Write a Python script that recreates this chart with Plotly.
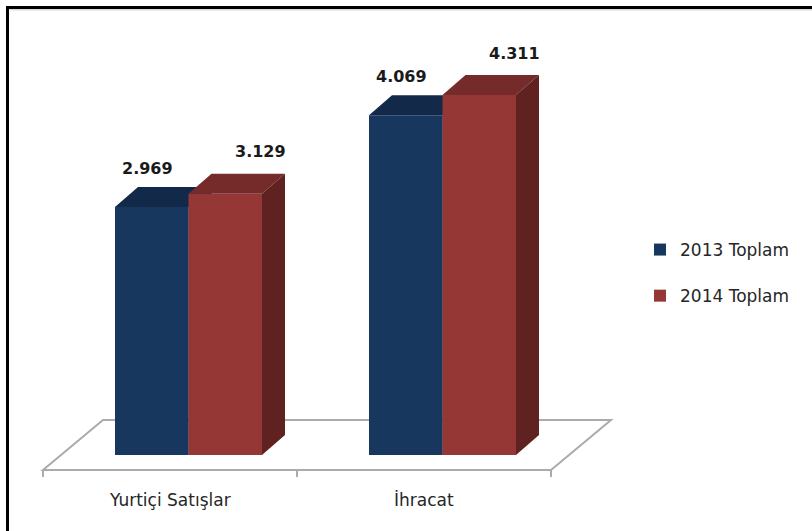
import plotly.graph_objects as go

# ---------------- data ----------------
categories = ["Yurtiçi Satışlar", "İhracat"]
series_names = ["2013 Toplam", "2014 Toplam"]
values_2013 = [2969, 4069]
values_2014 = [3129, 4311]

# ---------------- style / geometry (pixels) ----------------
W, H = 812, 531
CAT_PX = 254.0          # pixels per category
CAT0_PX = 170.0         # pixel x of first category centre (floor front)
BASE_PX = 455.0         # pixel y of value 0 (bar front base)
PX_PER_UNIT = 0.0835    # pixels per value unit
BAR_W_PX = 73.5
BAR_DEPTH = (23.0, 20.0)
FLOOR_DEPTH = (60.0, 50.0)

front_cols = ["#17375E", "#953735"]
top_cols = ["#12294A", "#742B2A"]
side_cols = ["#102440", "#5F2221"]
label_shift = [(-4.5, 39), (35, 42)]


def dx(px):
    return px / CAT_PX


def dy(px):
    return px / PX_PER_UNIT


series_values = [values_2013, values_2014]
n_cat = len(categories)
n_ser = len(series_values)

x_range = [(0 - CAT0_PX) / CAT_PX, (W - CAT0_PX) / CAT_PX]
y_range = [(BASE_PX - H) / PX_PER_UNIT, BASE_PX / PX_PER_UNIT]

group_off_px = (FLOOR_DEPTH[0] - BAR_DEPTH[0]) / 2.0
bar_w = dx(BAR_W_PX)


def fmt(v):
    return f"{v:,}".replace(",", ".")


fig = go.Figure()
shapes = []
annotations = []

# floor (parallelogram)
fy = -dy((FLOOR_DEPTH[1] - BAR_DEPTH[1]) / 2.0)
fx0, fx1 = -0.5, n_cat - 0.5
fdx, fdy = dx(FLOOR_DEPTH[0]), dy(FLOOR_DEPTH[1])
shapes.append(dict(
    type="path", xref="x", yref="y", layer="below",
    path=f"M{fx0},{fy} L{fx1},{fy} L{fx1 + fdx},{fy + fdy} L{fx0 + fdx},{fy + fdy} Z",
    fillcolor="white", line=dict(color="#ABABAB", width=2),
))
# tick marks on the category axis
for k in range(n_cat + 1):
    xt = -0.5 + k
    shapes.append(dict(type="line", xref="x", yref="y", layer="below",
                       x0=xt, x1=xt, y0=fy, y1=fy - dy(7),
                       line=dict(color="#ABABAB", width=2)))

bdx, bdy = dx(BAR_DEPTH[0]), dy(BAR_DEPTH[1])
for s in range(n_ser):
    centre_off = dx(group_off_px) + (s - (n_ser - 1) / 2.0) * bar_w
    xs = [i + centre_off for i in range(n_cat)]
    vals = series_values[s]
    fig.add_trace(go.Bar(
        x=xs, y=vals, base=0, width=bar_w, name=series_names[s],
        marker=dict(color=front_cols[s], line=dict(width=0)),
        legendgroup=series_names[s], hoverinfo="skip",
    ))
    for xc, v in zip(xs, vals):
        xl, xr = xc - bar_w / 2, xc + bar_w / 2
        # top face
        shapes.append(dict(
            type="path", xref="x", yref="y", layer="below",
            path=f"M{xl},{v} L{xr},{v} L{xr + bdx},{v + bdy} L{xl + bdx},{v + bdy} Z",
            fillcolor=top_cols[s], line=dict(width=0),
        ))
        # side face
        shapes.append(dict(
            type="path", xref="x", yref="y", layer="below",
            path=f"M{xr},0 L{xr + bdx},{bdy} L{xr + bdx},{v + bdy} L{xr},{v} Z",
            fillcolor=side_cols[s], line=dict(width=0),
        ))
        annotations.append(dict(
            x=xc, y=v, xref="x", yref="y", text=f"<b>{fmt(v)}</b>",
            showarrow=False, xanchor="center", yanchor="middle",
            xshift=label_shift[s][0], yshift=label_shift[s][1],
            font=dict(family="DejaVu Sans", size=16, color="#1A1A1A"),
        ))

# category labels
for i, c in enumerate(categories):
    annotations.append(dict(
        x=i, y=dy(BASE_PX - 500), xref="x", yref="y", text=c,
        showarrow=False, xanchor="center", yanchor="middle",
        font=dict(family="DejaVu Sans", size=17, color="#262626"),
    ))

# outer frame
shapes.append(dict(type="rect", xref="paper", yref="paper",
                   x0=7.5 / W, x1=1.05, y0=-0.05, y1=1 - 7.5 / H,
                   line=dict(color="black", width=3), fillcolor="rgba(0,0,0,0)",
                   layer="above"))
shapes.append(dict(type="line", xref="paper", yref="paper",
                   x0=9.5 / W, x1=1.0, y0=1 - 9.8 / H, y1=1 - 9.8 / H,
                   line=dict(color="#C8C8C8", width=1), layer="above"))

fig.update_layout(
    width=W, height=H,
    margin=dict(l=0, r=0, t=0, b=0),
    paper_bgcolor="white", plot_bgcolor="white",
    barmode="overlay",
    xaxis=dict(visible=False, range=x_range, fixedrange=True),
    yaxis=dict(visible=False, range=y_range, fixedrange=True),
    shapes=shapes, annotations=annotations,
    showlegend=True,
    legend=dict(x=640 / W, y=1 - 232 / H, xanchor="left", yanchor="top",
                font=dict(family="DejaVu Sans", size=17, color="#262626"),
                tracegroupgap=21, bgcolor="rgba(0,0,0,0)", itemclick=False),
)

fig.write_html("out.html")
